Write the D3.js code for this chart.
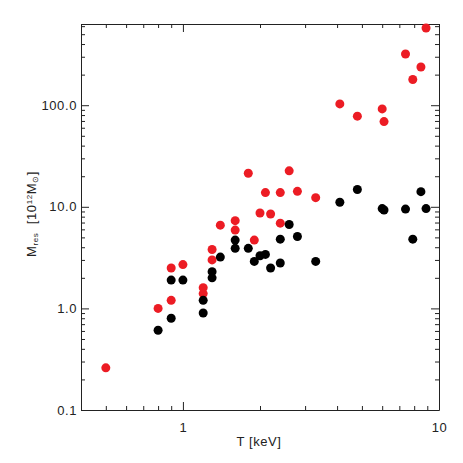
<!DOCTYPE html>
<html>
<head>
<meta charset="utf-8">
<script src="https://cdn.jsdelivr.net/npm/d3@7"></script>
<style>
  body { margin: 0; background: #fff; }
  svg { display: block; }
  .axis text { font: 13px "Liberation Sans", Arial, sans-serif; fill: #222; letter-spacing: 0.6px; }
  .axis path, .axis line { stroke: #222; stroke-width: 1; }
</style>
</head>
<body>
<div id="chart"></div>
<script>
// red series: temperature [keV], mass [1e12 Msun]
const tempRed = [0.5, 0.8, 0.9, 0.9, 1.0, 1.2, 1.2, 1.3, 1.3, 1.4, 1.6, 1.6, 1.8, 1.9, 2.0,
                 2.1, 2.2, 2.4, 2.4, 2.6, 2.8, 3.3, 4.1, 4.8, 6.0, 6.1, 7.4, 7.9, 8.5, 8.9];
const massRed = [0.26, 1.0, 1.2, 2.5, 2.7, 1.4, 1.6, 3.0, 3.8, 6.6, 5.9, 7.3, 21.4, 4.7, 8.7,
                 13.8, 8.5, 13.8, 6.9, 22.6, 14.2, 12.3, 103, 78, 92, 69, 319, 179, 238, 575];

// black series
const tempBlack = [0.8, 0.9, 0.9, 1.0, 1.2, 1.2, 1.3, 1.3, 1.4, 1.6, 1.6, 1.8, 1.9, 2.0, 2.1,
                   2.2, 2.4, 2.4, 2.6, 2.8, 3.3, 4.1, 4.8, 6.0, 6.1, 7.4, 7.9, 8.5, 8.9];
const massBlack = [0.61, 0.8, 1.9, 1.9, 0.9, 1.2, 2.0, 2.3, 3.2, 3.9, 4.7, 3.9, 2.9, 3.3, 3.4,
                   2.5, 2.8, 4.8, 6.7, 5.1, 2.9, 11.1, 14.8, 9.6, 9.3, 9.5, 4.8, 14.1, 9.6];

const xMajor = [1, 10];
const xMajorLabels = ["1", "10"];
const xMinor = [0.4, 0.5, 0.6, 0.7, 0.8, 0.9, 2, 3, 4, 5, 6, 7, 8, 9];
const yMajor = [0.1, 1, 10, 100];
const yMajorLabels = ["0.1", "1.0", "10.0", "100.0"];
const yMinor = [0.2, 0.3, 0.4, 0.5, 0.6, 0.7, 0.8, 0.9,
                2, 3, 4, 5, 6, 7, 8, 9,
                20, 30, 40, 50, 60, 70, 80, 90,
                200, 300, 400, 500, 600];

const width = 463, height = 463;
const mLeft = 81, mRight = 439, mTop = 24, mBottom = 410;

const svg = d3.select("#chart").append("svg")
    .attr("width", width)
    .attr("height", height);

const x = d3.scaleLog().domain([0.4, 10]).range([mLeft, mRight]);
const y = d3.scaleLog().domain([0.1, 630]).range([mBottom, mTop]);

const xTicks = xMajor.concat(xMinor);
const yTicks = yMajor.concat(yMinor);

function xFmt(d) {
    const i = xMajor.indexOf(d);
    return i >= 0 ? xMajorLabels[i] : "";
}
function yFmt(d) {
    const i = yMajor.indexOf(d);
    return i >= 0 ? yMajorLabels[i] : "";
}

// inward ticks, shorter for minor ones
function shortenMinor(g, majors, attr, len) {
    g.selectAll(".tick").filter(d => majors.indexOf(d) < 0)
        .select("line").attr(attr, len);
}

const gBottom = svg.append("g").attr("class", "axis")
    .attr("transform", "translate(0," + mBottom + ")")
    .call(d3.axisBottom(x).tickValues(xTicks).tickFormat(xFmt)
        .tickSize(-8).tickSizeOuter(0).tickPadding(13));
shortenMinor(gBottom, xMajor, "y2", -4);

const gTop = svg.append("g").attr("class", "axis")
    .attr("transform", "translate(0," + mTop + ")")
    .call(d3.axisTop(x).tickValues(xTicks).tickFormat("")
        .tickSize(-8).tickSizeOuter(0));
shortenMinor(gTop, xMajor, "y2", 4);

const gLeft = svg.append("g").attr("class", "axis")
    .attr("transform", "translate(" + mLeft + ",0)")
    .call(d3.axisLeft(y).tickValues(yTicks).tickFormat(yFmt)
        .tickSize(-8).tickSizeOuter(0).tickPadding(4));
shortenMinor(gLeft, yMajor, "x2", 4);

const gRight = svg.append("g").attr("class", "axis")
    .attr("transform", "translate(" + mRight + ",0)")
    .call(d3.axisRight(y).tickValues(yTicks).tickFormat("")
        .tickSize(-8).tickSizeOuter(0));
shortenMinor(gRight, yMajor, "x2", -4);

svg.selectAll(".axis .domain").attr("stroke", "#222");

// points
svg.append("g").selectAll("circle")
    .data(d3.range(tempRed.length))
    .enter().append("circle")
    .attr("cx", i => x(tempRed[i]))
    .attr("cy", i => y(massRed[i]))
    .attr("r", 4.5)
    .attr("fill", "#ec1c24");

svg.append("g").selectAll("circle")
    .data(d3.range(tempBlack.length))
    .enter().append("circle")
    .attr("cx", i => x(tempBlack[i]))
    .attr("cy", i => y(massBlack[i]))
    .attr("r", 4.5)
    .attr("fill", "#000");

// axis titles
svg.append("text")
    .attr("x", 259).attr("y", 446)
    .attr("text-anchor", "middle")
    .style("font", "13px 'Liberation Sans', Arial, sans-serif")
    .style("letter-spacing", "0.6px")
    .style("fill", "#222")
    .text("T  [keV]");

const yl = svg.append("text")
    .attr("transform", "translate(36,214) rotate(-90)")
    .attr("text-anchor", "middle")
    .style("font", "13px 'Liberation Sans', Arial, sans-serif")
    .style("letter-spacing", "0.6px")
    .style("white-space", "pre")
    .style("fill", "#222");
yl.append("tspan").text("M");
yl.append("tspan").attr("baseline-shift", "-25%").style("font-size", "8px").text("res");
yl.append("tspan").text("  [10");
yl.append("tspan").attr("baseline-shift", "45%").style("font-size", "8px").text("12");
yl.append("tspan").text("M");
yl.append("tspan").attr("baseline-shift", "-25%").style("font-size", "8px").text("⊙");
yl.append("tspan").text("]");
</script>
</body>
</html>
